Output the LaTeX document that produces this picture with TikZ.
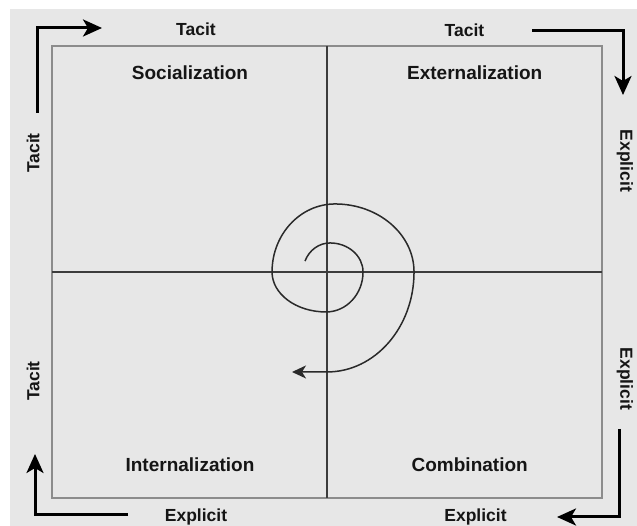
\documentclass[tikz,border=0pt]{standalone}
\usepackage{fontspec}
\setmainfont{Liberation Sans}
\usetikzlibrary{arrows.meta}
\definecolor{bg}{HTML}{E7E7E7}
\definecolor{boxgray}{HTML}{8C8C8C}
\definecolor{crossgray}{HTML}{3C3C3C}
\definecolor{spiralgray}{HTML}{2A2A2A}
\definecolor{ink}{HTML}{151515}
\tikzset{
  axislabel/.style={font=\fontsize{17.5}{20}\selectfont\bfseries, text=ink, inner sep=0pt},
  quadlabel/.style={font=\fontsize{19}{22}\selectfont\bfseries, text=ink, inner sep=0pt, anchor=base},
  bigarrow/.style={line width=3pt, black, -{Stealth[length=19pt, width=17pt, inset=5pt]}},
  spiralline/.style={line width=1.5pt, spiralgray, -{Stealth[length=14pt, width=13pt, inset=4pt]}},
  boxline/.style={line width=1.4pt, boxgray},
  crossline/.style={line width=1.3pt, crossgray}
}
\begin{document}
\begin{tikzpicture}[x=1pt,y=1pt]
\useasboundingbox (0,0) rectangle (637,526);
\fill[white] (0,0) rectangle (637,526);
\fill[bg] (10,0) rectangle (637,517);
% frame and cross
\draw[boxline] (52,28) rectangle (602,480);
\coordinate (vt) at (327,480);
\coordinate (vb) at (327,28);
\coordinate (hl) at (52,254);
\coordinate (hr) at (602,254);
\draw[crossline] (vt) -- (vb);
\draw[crossline] (hl) -- (hr);
% spiral
\coordinate (sp0) at (305,264.9);
\coordinate (tip) at (292,154);
\draw[spiralline] (sp0)
  arc[start angle=158, end angle=90, x radius=27, y radius=29]
  arc[start angle=90, end angle=0, x radius=33, y radius=29]
  arc[start angle=0, end angle=-90, x radius=37, y radius=40]
  arc[start angle=-90, end angle=-180, x radius=54, y radius=40]
  arc[start angle=180, end angle=90, x radius=63, y radius=68]
  arc[start angle=90, end angle=0, x radius=79, y radius=68]
  arc[start angle=0, end angle=-90, x radius=87, y radius=100]
  -- (tip);
% corner arrows
\coordinate (tl0) at (37,413); \coordinate (tl1) at (37,498); \coordinate (tl2) at (102,498);
\draw[bigarrow] (tl0) -- (tl1) -- (tl2);
\coordinate (tr0) at (532,495); \coordinate (tr1) at (623,495); \coordinate (tr2) at (623,431);
\draw[bigarrow] (tr0) -- (tr1) -- (tr2);
\coordinate (br0) at (619,97); \coordinate (br1) at (619,9); \coordinate (br2) at (557,9);
\draw[bigarrow] (br0) -- (br1) -- (br2);
\coordinate (bl0) at (128,11); \coordinate (bl1) at (35,11); \coordinate (bl2) at (35,72);
\draw[bigarrow] (bl0) -- (bl1) -- (bl2);
% axis labels
\node[axislabel, anchor=base] (t1) at (196,490) {Tacit};
\node[axislabel, anchor=base] (t2) at (464.5,489.5) {Tacit};
\node[axislabel, rotate=90] (t3) at (33,373) {Tacit};
\node[axislabel, rotate=90] (t4) at (33,145) {Tacit};
\node[axislabel, rotate=-90] (e1) at (625,365) {Explicit};
\node[axislabel, rotate=-90] (e2) at (625,147) {Explicit};
\node[axislabel, anchor=base] (e3) at (196,4.5) {Explicit};
\node[axislabel, anchor=base] (e4) at (475.5,4.5) {Explicit};
% quadrant labels
\node[quadlabel] (q1) at (190,446.7) {Socialization};
\node[quadlabel] (q2) at (474.7,446) {Externalization};
\node[quadlabel] (q3) at (190,54.3) {Internalization};
\node[quadlabel] (q4) at (469.7,54.3) {Combination};
\end{tikzpicture}
\end{document}
